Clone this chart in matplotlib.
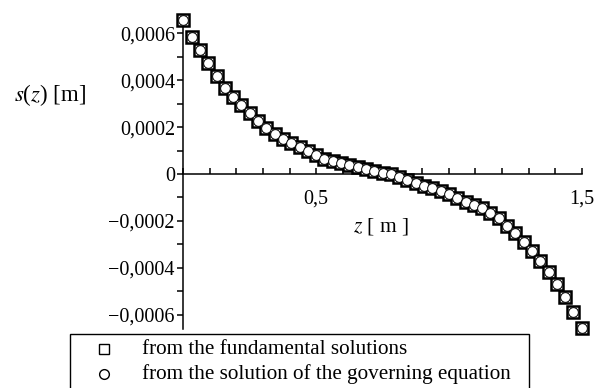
import matplotlib
matplotlib.use("Agg")
from matplotlib import pyplot as plt
from matplotlib.patches import Rectangle
from matplotlib.lines import Line2D
from matplotlib.ticker import FixedLocator, MultipleLocator
import numpy as np

# z positions: 49 points from 0 to 1.5
z = np.linspace(0, 1.5, 49)

# deflection values [1e-4 m]
s_fund = [6.55, 5.86, 5.29, 4.72, 4.18, 3.68, 3.27, 2.93, 2.60, 2.25,
          1.94, 1.72, 1.50, 1.31, 1.13, 0.98, 0.79, 0.66, 0.56, 0.46,
          0.38, 0.29, 0.21, 0.13, 0.06, -0.01, -0.12, -0.25, -0.37, -0.50,
          -0.61, -0.71, -0.85, -1.04, -1.18, -1.32, -1.46, -1.66, -1.89, -2.22,
          -2.53, -2.91, -3.28, -3.71, -4.19, -4.70, -5.26, -5.87, -6.56]
s_gov = list(s_fund)

y_ticks = [-0.0006, -0.0004, -0.0002, 0, 0.0002, 0.0004, 0.0006]
y_ticklabels = ["\u22120,0006", "\u22120,0004", "\u22120,0002", "0",
                "0,0002", "0,0004", "0,0006"]
x_ticks = [0.5, 1.5]
x_ticklabels = ["0,5", "1,5"]

legend_labels = ["from the fundamental solutions",
                 "from the solution of the governing equation"]

plt.rcParams['font.family'] = ['Liberation Serif', 'DejaVu Serif']
plt.rcParams['mathtext.fontset'] = 'stix'

W, H = 597, 388
fig = plt.figure(figsize=(W / 100, H / 100), dpi=100)

def fx(px):
    return px / W

def fy(py):
    return 1 - py / H

left, right = 183.3, 581.7
top, bottom = 19.2, 328.8
ax = fig.add_axes([fx(left), fy(bottom), fx(right - left), (bottom - top) / H])
ax.set_xlim(0, 1.5)
ax.set_ylim(-0.00066, 0.00066)

ax.plot(z, np.array(s_fund) * 1e-4, 's', ms=8.6, mfc='white', mec='black',
        mew=1.8, clip_on=False, zorder=3)
ax.plot(z, np.array(s_gov) * 1e-4, 'o', ms=7.0, mfc='white', mec='black',
        mew=0.7, clip_on=False, zorder=4)

for side in ['top', 'right']:
    ax.spines[side].set_visible(False)
ax.spines['left'].set_position(('data', 0))
ax.spines['bottom'].set_position(('data', 0))
ax.spines['left'].set_linewidth(1.1)
ax.spines['bottom'].set_linewidth(1.1)
ax.patch.set_visible(False)

ax.yaxis.set_major_locator(FixedLocator(y_ticks))
ax.set_yticklabels(y_ticklabels)
ax.yaxis.set_minor_locator(MultipleLocator(0.0001))
ax.tick_params(axis='y', which='both', direction='out', length=4, width=1.1,
               labelsize=14.5, pad=2)

ax.xaxis.set_major_locator(FixedLocator(x_ticks))
ax.set_xticklabels(x_ticklabels)
ax.xaxis.set_minor_locator(MultipleLocator(0.1))
ax.tick_params(axis='x', which='both', direction='in', length=4, width=1.1,
               labelsize=14.5, pad=11)

fig.text(fx(50), fy(95), "$s$($z$) [m]", ha='center', va='center', fontsize=16.5)
fig.text(fx(381), fy(226), "$z$ [ m ]", ha='center', va='center', fontsize=15.5)

# legend box, cut by the bottom edge as in the original
fig.add_artist(Rectangle((fx(70), fy(395)), fx(529 - 70), (395 - 334) / H,
                         transform=fig.transFigure, fill=False,
                         edgecolor='black', linewidth=1.0))
fig.add_artist(Line2D([fx(104)], [fy(349)], marker='s', ms=7.5, mfc='white',
                      mec='black', mew=1.0, transform=fig.transFigure))
fig.add_artist(Line2D([fx(104)], [fy(374)], marker='o', ms=7.0, mfc='white',
                      mec='black', mew=1.0, transform=fig.transFigure))
fig.text(fx(141.7), fy(349), legend_labels[0], ha='left', va='center', fontsize=15.2)
fig.text(fx(141.7), fy(374), legend_labels[1], ha='left', va='center', fontsize=15.2)

fig.savefig("out.png", dpi=100)
